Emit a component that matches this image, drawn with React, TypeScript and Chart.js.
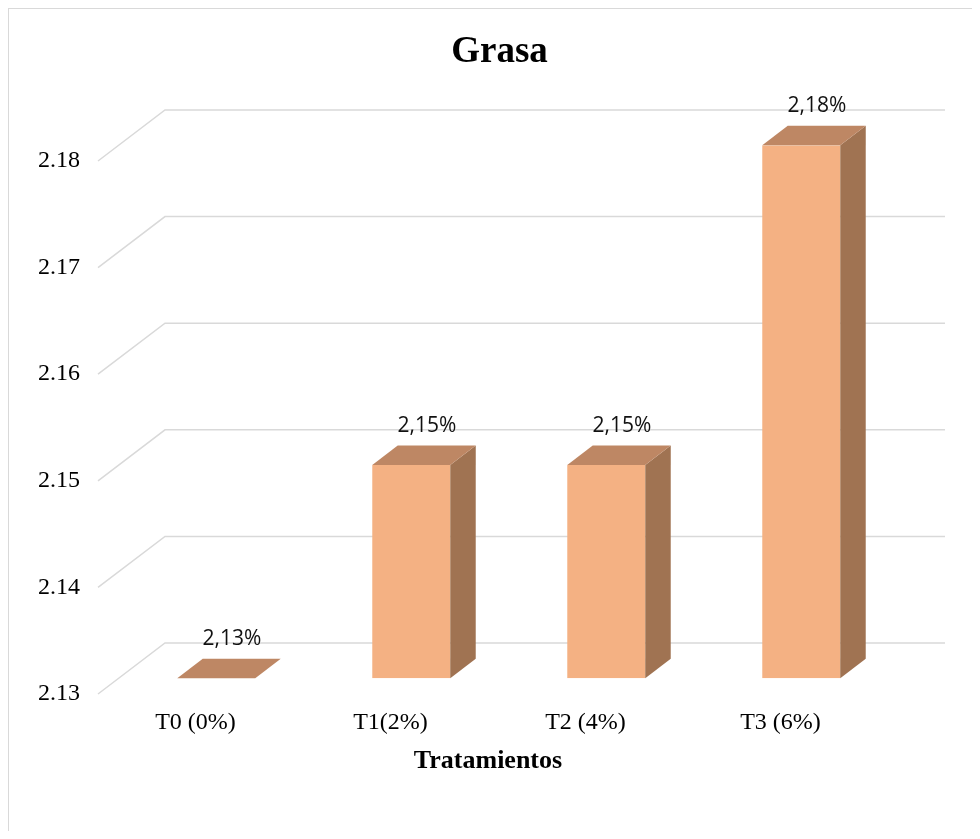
import React, { useEffect, useRef } from 'react';
import { Chart, registerables } from 'chart.js';

Chart.register(...registerables);

// Datos: contenido de grasa por tratamiento
const categories = ['T0 (0%)', 'T1(2%)', 'T2 (4%)', 'T3 (6%)'];
const grasaValues = [2.13, 2.15, 2.15, 2.18];
const yMin = 2.13;
const yMax = 2.18;
const yStep = 0.01;

const SERIF = '"Liberation Serif", "Times New Roman", serif';
const SANS = '"Open Sans", "Noto Sans", sans-serif';

// Oblique projection of the 3D box: full depth vector and the bar slab inside it
const depth = { dx: 67, dy: -51, front: 0.31, back: 0.69 };

const colors = {
  front: '#F4B183',
  top: '#BE8764',
  side: '#A07352',
  grid: '#D9D9D9',
};

const formatPct = (v: number) => v.toFixed(2).replace('.', ',') + '%';

const box3d = {
  id: 'box3d',
  beforeDatasetsDraw(chart: any) {
    const { ctx, chartArea, scales } = chart;
    const y = scales.y;
    // side wall edges and back wall gridlines
    ctx.save();
    ctx.strokeStyle = colors.grid;
    ctx.lineWidth = 1.5;
    y.ticks.forEach((t: any) => {
      const py = y.getPixelForValue(t.value);
      ctx.beginPath();
      ctx.moveTo(chartArea.left, py);
      ctx.lineTo(chartArea.left + depth.dx, py + depth.dy);
      ctx.lineTo(chartArea.right + depth.dx, py + depth.dy);
      ctx.stroke();
    });
    ctx.restore();
    // bars sit in the middle of the depth
    ctx.save();
    ctx.translate(depth.dx * depth.front, depth.dy * depth.front);
  },
  afterDatasetsDraw(chart: any) {
    const { ctx } = chart;
    const meta = chart.getDatasetMeta(0);
    const bx = depth.dx * (depth.back - depth.front);
    const by = depth.dy * (depth.back - depth.front);
    meta.data.forEach((bar: any) => {
      const { x, y, base, width } = bar.getProps(['x', 'y', 'base', 'width'], true);
      const l = x - width / 2;
      const r = x + width / 2;
      ctx.fillStyle = colors.side;
      ctx.beginPath();
      ctx.moveTo(r, y);
      ctx.lineTo(r + bx, y + by);
      ctx.lineTo(r + bx, base + by);
      ctx.lineTo(r, base);
      ctx.closePath();
      ctx.fill();
      ctx.fillStyle = colors.top;
      ctx.beginPath();
      ctx.moveTo(l, y);
      ctx.lineTo(r, y);
      ctx.lineTo(r + bx, y + by);
      ctx.lineTo(l + bx, y + by);
      ctx.closePath();
      ctx.fill();
    });
    ctx.font = `21px ${SANS}`;
    ctx.fillStyle = '#111111';
    ctx.textAlign = 'center';
    ctx.textBaseline = 'middle';
    meta.data.forEach((bar: any, i: number) => {
      ctx.fillText(formatPct(grasaValues[i]), bar.x + bx / 2 + 3, bar.y + by - 20);
    });
    ctx.restore();
  },
};

export default function App() {
  const canvasRef = useRef<HTMLCanvasElement | null>(null);

  useEffect(() => {
    const canvas = canvasRef.current;
    if (!canvas) return;
    const chart = new Chart(canvas, {
      type: 'bar',
      data: {
        labels: categories,
        datasets: [
          {
            data: grasaValues,
            base: yMin,
            backgroundColor: colors.front,
            borderWidth: 0,
            categoryPercentage: 1,
            barPercentage: 0.4,
          },
        ],
      },
      options: {
        responsive: false,
        maintainAspectRatio: false,
        animation: false,
        layout: { padding: { left: 10, top: 0, right: 0, bottom: 0 } },
        plugins: {
          legend: { display: false },
          tooltip: { enabled: false },
          title: {
            display: true,
            text: 'Grasa',
            color: '#000000',
            font: { family: SERIF, size: 37, weight: 'bold' },
            padding: { top: 21, bottom: 86.6 },
          },
        },
        scales: {
          x: {
            type: 'category',
            position: 'bottom',
            offset: true,
            grid: { display: false, drawTicks: false },
            border: { display: false },
            ticks: {
              color: '#000000',
              font: { family: SERIF, size: 24 },
              padding: 14,
              maxRotation: 0,
              autoSkip: false,
            },
            title: {
              display: true,
              text: 'Tratamientos',
              color: '#000000',
              font: { family: SERIF, size: 26, weight: 'bold' },
              padding: { top: 0, bottom: 54.4 },
            },
            afterFit(scale: any) {
              scale.height = 137;
            },
          },
          y: {
            position: 'left',
            min: yMin,
            max: yMax,
            grid: { display: false, drawTicks: false },
            border: { display: false },
            ticks: {
              stepSize: yStep,
              padding: 18,
              color: '#000000',
              font: { family: SERIF, size: 24 },
              callback: (v: any) => Number(v).toFixed(2),
            },
            afterFit(scale: any) {
              scale.width = 79;
            },
          },
          depthSpace: {
            type: 'linear',
            position: 'right',
            display: true,
            grid: { display: false, drawTicks: false },
            border: { display: false },
            ticks: { display: false },
            afterFit(scale: any) {
              scale.width = 102;
            },
          },
        },
      } as any,
      plugins: [box3d],
    });
    return () => chart.destroy();
  }, []);

  return (
    <div
      style={{
        width: 972,
        height: 823,
        boxSizing: 'border-box',
        borderLeft: '1px solid #D9D9D9',
        borderTop: '1px solid #D9D9D9',
        background: '#ffffff',
        overflow: 'hidden',
      }}
    >
      <canvas ref={canvasRef} width={971} height={822} style={{ display: 'block' }} />
    </div>
  );
}
